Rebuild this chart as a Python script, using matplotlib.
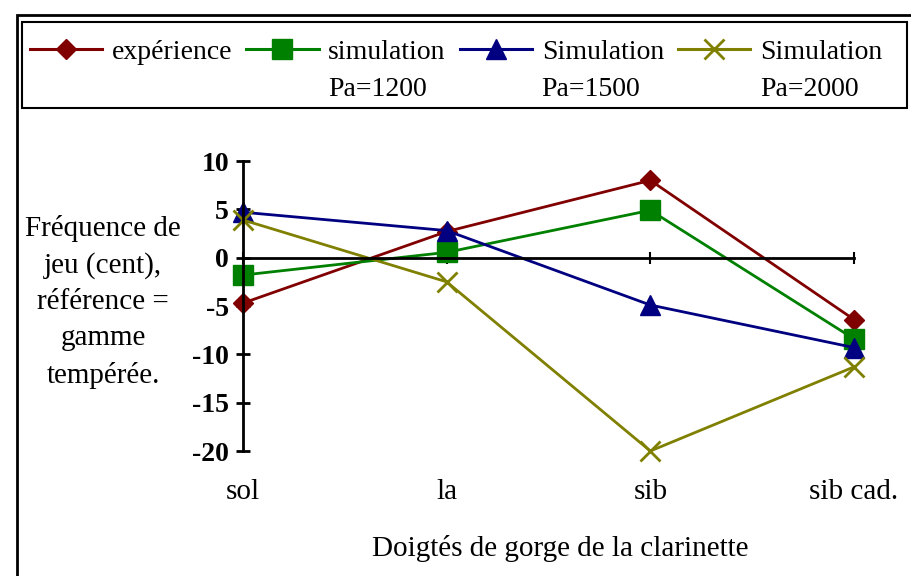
import matplotlib
matplotlib.use("Agg")
import matplotlib.pyplot as plt
from matplotlib.patches import Rectangle

categories = ["sol", "la", "sib", "sib cad."]
experience = [-4.7, 2.7, 8.0, -6.4]
sim_1200 = [-1.8, 0.55, 4.9, -8.4]
sim_1500 = [4.7, 2.8, -4.9, -9.3]
sim_2000 = [3.9, -2.5, -20.0, -11.3]
series_labels = ["expérience", "simulation", "Simulation", "Simulation"]
series_sublabels = ["", "Pa=1200", "Pa=1500", "Pa=2000"]
y_ticks = [10, 5, 0, -5, -10, -15, -20]

plt.rcParams["font.family"] = ["Liberation Serif", "DejaVu Serif"]

fig = plt.figure(figsize=(9.12, 5.76), dpi=100)
ax = fig.add_axes([243 / 912, 1 - 451 / 576, 611 / 912, 290 / 576])

styles = [
    dict(color="#800000", marker="D", ms=10),
    dict(color="#008000", marker="s", ms=14),
    dict(color="#000080", marker="^", ms=14),
    dict(color="#808000", marker="x", ms=14, mew=2),
]
x = list(range(len(categories)))
handles = []
for vals, lab, st in zip([experience, sim_1200, sim_1500, sim_2000], series_labels, styles):
    (h,) = ax.plot(x, vals, lw=2, clip_on=False, label=lab, **st)
    handles.append(h)

ax.set_xlim(0, 3)
ax.set_ylim(-20, 10)
ax.spines["top"].set_visible(False)
ax.spines["right"].set_visible(False)
ax.spines["bottom"].set_position(("data", 0))
ax.spines["left"].set_linewidth(2)
ax.spines["bottom"].set_linewidth(2)
ax.set_xticks(x)
ax.set_xticklabels([])
ax.tick_params(axis="x", direction="inout", length=8, width=1.5)
ax.set_yticks(y_ticks)
ax.set_yticklabels([str(t) for t in y_ticks], fontsize=20, fontweight="bold")
ax.tick_params(axis="y", direction="inout", length=10, width=2, pad=5)
ax.patch.set_visible(False)

for xi, lab in zip(x, categories):
    ax.text(xi, -0.14, lab, transform=ax.get_xaxis_transform(), ha="center", va="center", fontsize=21)

fig.text(560 / 912, 1 - 548 / 576, "Doigtés de gorge de la clarinette", ha="center", va="center", fontsize=21)
fig.text(103 / 912, 1 - 302 / 576, "Fréquence de\njeu (cent),\nréférence =\ngamme\ntempérée.",
         ha="center", va="center", fontsize=21, linespacing=1.5)

# legend: first line through fig.legend, second lines placed under each label
leg = fig.legend(handles=handles, loc="center", ncol=4,
                 bbox_to_anchor=(30 / 912, 1 - 70 / 576, 852 / 912, 36 / 576), mode="expand",
                 fontsize=20, handlelength=2.6, handletextpad=0.35, columnspacing=0.3,
                 frameon=False, borderaxespad=0, borderpad=0)
for lh in leg.get_lines():
    lh.set_linewidth(2.2)
fig.patches.append(Rectangle((22 / 912, 1 - 108 / 576), 885 / 912, 86 / 576, transform=fig.transFigure,
                             fill=False, edgecolor="black", lw=1.5))
fig.patches.append(Rectangle((17 / 912, -0.01), 1.0, 1 - 15 / 576 + 0.01, transform=fig.transFigure,
                             fill=False, edgecolor="black", lw=2))

fig.canvas.draw()
inv = fig.transFigure.inverted()
for txt, sub in zip(leg.get_texts(), series_sublabels):
    if not sub:
        continue
    bb = txt.get_window_extent()
    x0, y0 = inv.transform((bb.x0, bb.y0 - 37))
    fig.text(x0, y0, sub, ha="left", va="bottom", fontsize=20)

fig.savefig("out.png", dpi=100)
